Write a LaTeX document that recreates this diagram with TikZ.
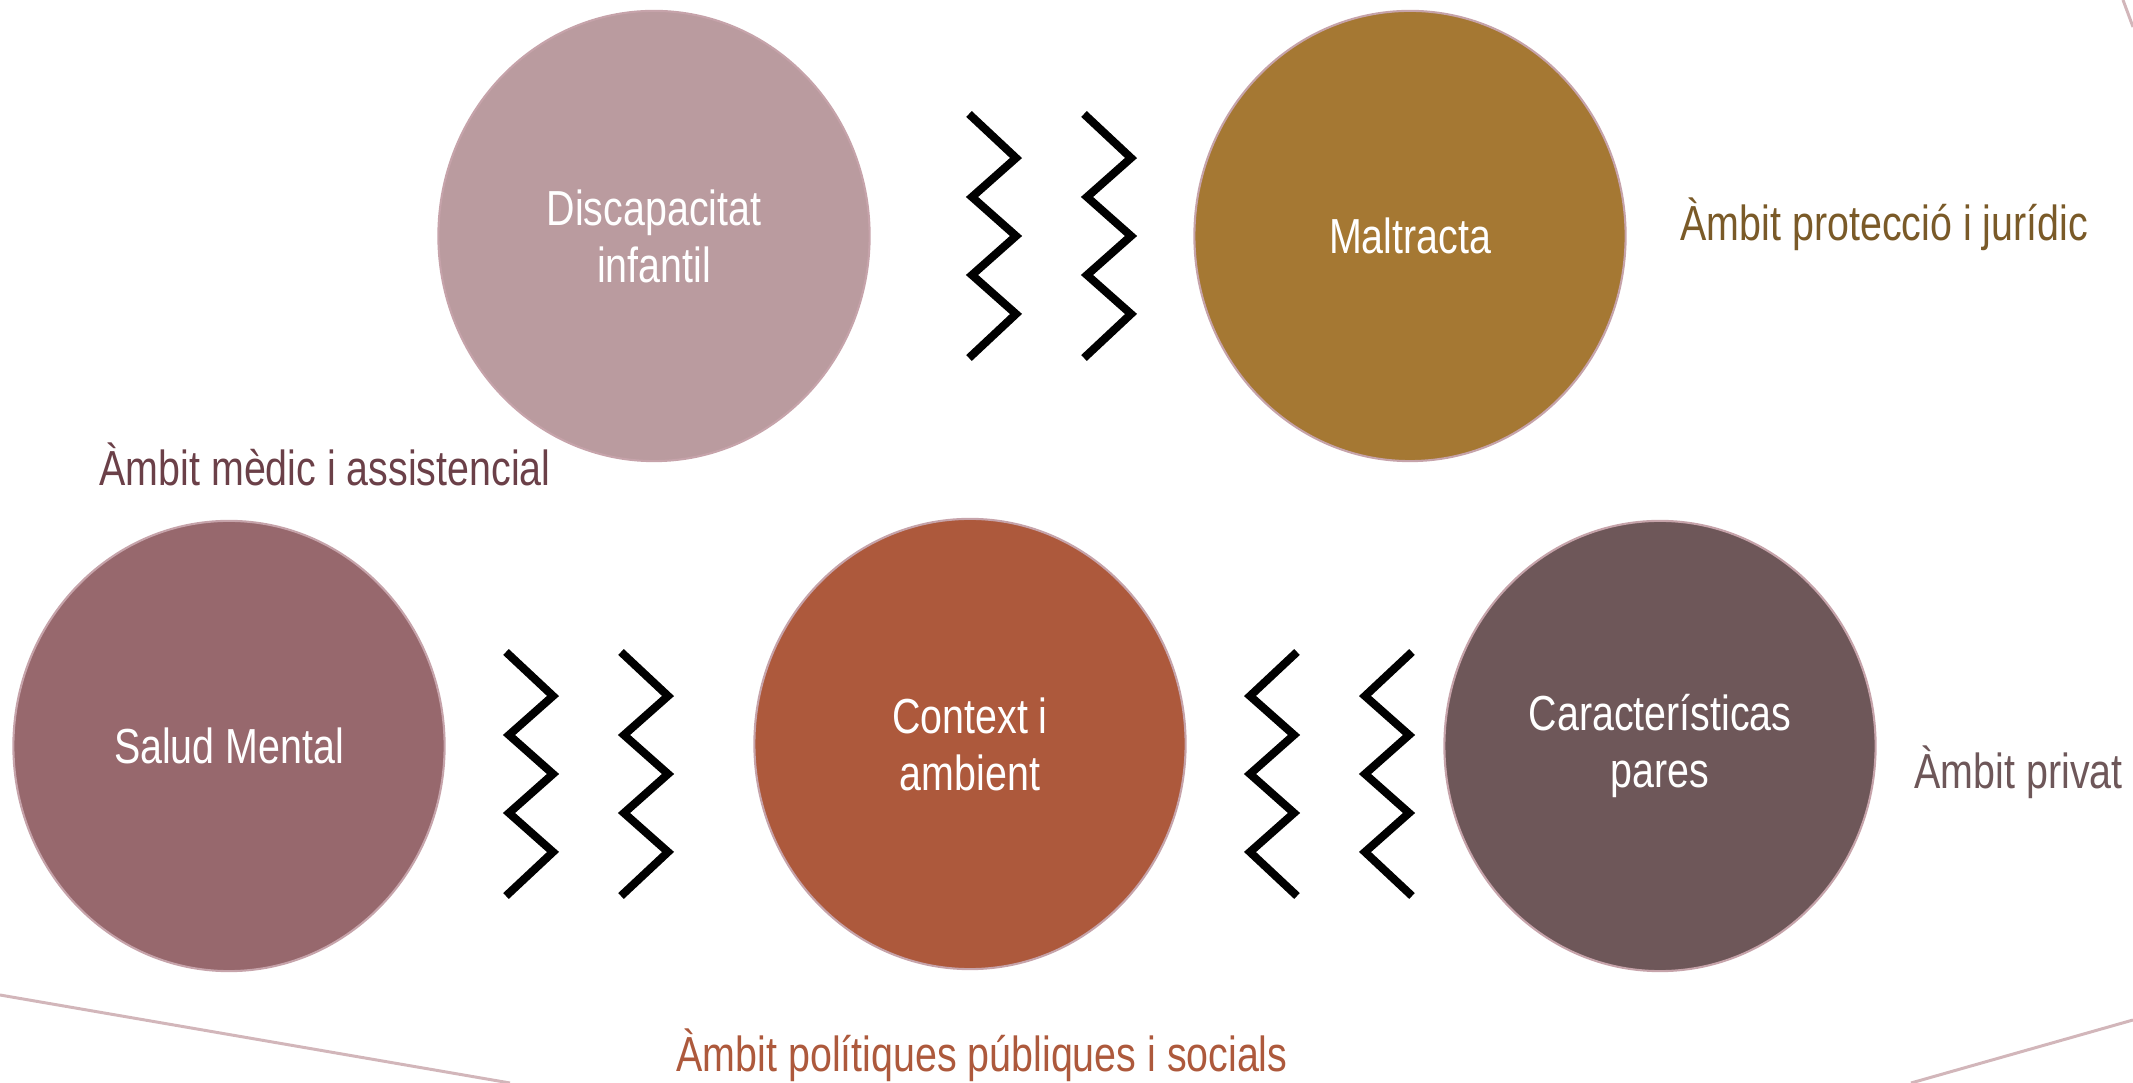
\documentclass[tikz,border=0pt]{standalone}
\usepackage{fontspec}
\setmainfont{Liberation Sans}[FakeStretch=0.8]
\usetikzlibrary{shapes.geometric}
\definecolor{discol}{HTML}{BA9B9F}
\definecolor{malcol}{HTML}{A57833}
\definecolor{salcol}{HTML}{97686D}
\definecolor{concol}{HTML}{AD593C}
\definecolor{carcol}{HTML}{6E5759}
\definecolor{rimcol}{HTML}{C6A3AA}
\definecolor{medcol}{HTML}{6B4048}
\definecolor{procol}{HTML}{7A5A28}
\definecolor{linecol}{HTML}{D2B6BA}
\tikzset{
    x=0.01cm, y=-0.01cm,
    circ/.style={ellipse, draw=rimcol, line width=0.6pt, minimum width=4.31cm, minimum height=4.5cm,
                 text=white, align=center, font=\fontsize{14}{16.2}\selectfont, inner sep=0pt},
    ambit/.style={anchor=base west, inner sep=0pt, font=\fontsize{14}{17}\selectfont},
    zigzag/.style={black, line width=2.3pt, line join=miter},
    corner/.style={linecol, line width=0.85pt}
}
\begin{document}
\begin{tikzpicture}
                \useasboundingbox (0,0) rectangle (2133,1083);
                % corner lines
                \draw[corner] (0,995) -- (510,1083);
                \draw[corner] (1911,1083) -- (2133,1020);
                \draw[corner] (2123,0) -- (2133,27);
                % circles
                \node[circ, fill=discol] (discap) at (654,236) {Discapacitat\\infantil};
                \node[circ, fill=malcol] (maltr) at (1410,236) {Maltracta};
                \node[circ, fill=salcol] (salud) at (229,746) {Salud Mental};
                \node[circ, fill=concol] (context) at (970,744) {Context i\\ambient};
                \node[circ, fill=carcol] (caract) at (1660,746) {Características\\pares};
                % zigzags
                \foreach \x/\y/\s in {969/114/1,1084/114/1,506/652/1,621/652/1,1297/652/-1,1412/652/-1}
                {
                    \draw[zigzag] (\x,\y) -- ++(47*\s,44) -- ++(-44*\s,39) -- ++(44*\s,39)
                        -- ++(-44*\s,39) -- ++(44*\s,39) -- ++(-47*\s,44);
                }
                % labels
                \node[ambit, text=medcol] (medic) at (99,486) {Àmbit mèdic i assistencial};
                \node[ambit, text=procol] (protec) at (1680,241) {Àmbit protecció i jurídic};
                \node[ambit, text=carcol] (privat) at (1914,789) {Àmbit privat};
                \node[ambit, text=concol] (politi) at (676,1072) {Àmbit polítiques públiques i socials};
            \end{tikzpicture}
\end{document}
